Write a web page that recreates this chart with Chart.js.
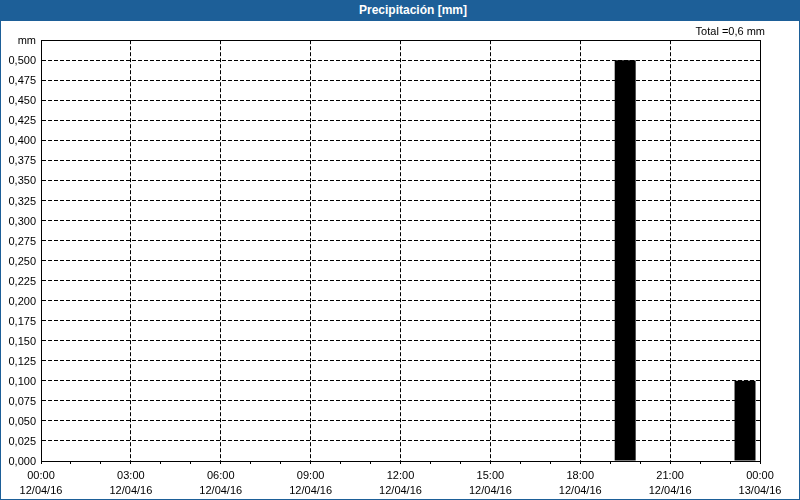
<!DOCTYPE html>
<html>
<head>
<meta charset="utf-8">
<script src="https://cdn.jsdelivr.net/npm/chart.js@4/dist/chart.umd.min.js"></script>
<style>
  body { margin: 0; background: #fff; }
  #frame { position: relative; width: 800px; height: 500px; box-sizing: border-box;
           border: 1px solid #1d5f98; border-top: none; background: #fff; }
  #head { position: absolute; left: -1px; top: 0; width: 800px; height: 21px; background: #1d5f98;
          color: #fff; font: bold 12px "Liberation Sans", sans-serif; line-height: 21px;
          text-align: center; text-indent: 26px; }
  #box { position: absolute; left: 0; top: 21px; width: 798px; height: 478px; }
</style>
</head>
<body>
<div id="frame">
  <div id="head">Precipitación [mm]</div>
  <div id="box"><canvas id="grafico" width="798" height="478"></canvas></div>
</div>
<script>
'use strict';

// datos: precipitacion horaria (mm) del 12/04/16
var horas = [0, 1, 2, 3, 4, 5, 6, 7, 8, 9, 10, 11, 12, 13, 14, 15, 16, 17, 18, 19, 20, 21, 22, 23];
var lluvia = [0, 0, 0, 0, 0, 0, 0, 0, 0, 0, 0, 0, 0, 0, 0, 0, 0, 0, 0, 0.5, 0, 0, 0, 0.1];
var etiquetasHora = ['00:00', '03:00', '06:00', '09:00', '12:00', '15:00', '18:00', '21:00', '00:00'];
var etiquetasFecha = ['12/04/16', '12/04/16', '12/04/16', '12/04/16', '12/04/16', '12/04/16', '12/04/16', '12/04/16', '13/04/16'];
var total = '0,6';

var fuente = { family: '"Liberation Sans", sans-serif', size: 11 };
var negro = '#000';

// marco superior solido
var marco = {
    id: 'marco',
    afterDraw: function (chart) {
        var a = chart.chartArea;
        var ctx = chart.ctx;
        ctx.save();
        ctx.strokeStyle = negro;
        ctx.lineWidth = 1;
        ctx.beginPath();
        ctx.moveTo(a.left, Math.round(a.top) + 0.5);
        ctx.lineTo(a.right + 0.5, Math.round(a.top) + 0.5);
        ctx.stroke();
        ctx.restore();
    }
};

new Chart(document.getElementById('grafico').getContext('2d'), {
    type: 'bar',
    data: {
        datasets: [{
            label: 'Precipitación',
            data: horas.map(function (h, i) { return { x: h + 0.5, y: lluvia[i] }; }),
            backgroundColor: negro,
            borderWidth: 0,
            barPercentage: 0.7,
            categoryPercentage: 1
        }]
    },
    options: {
        responsive: false,
        animation: false,
        devicePixelRatio: 1,
        layout: { padding: { left: 0, right: 34, top: 0, bottom: 0 } },
        plugins: {
            legend: { display: false },
            tooltip: { enabled: false },
            title: {
                display: true,
                text: 'Total =' + total + ' mm',
                align: 'end',
                color: negro,
                font: { family: fuente.family, size: 11, weight: 'normal' },
                padding: { top: 4, bottom: 2 }
            }
        },
        scales: {
            x: {
                type: 'linear',
                min: 0,
                max: 24,
                offset: false,
                afterFit: function (s) { s.height = 38; },
                ticks: {
                    stepSize: 1,
                    autoSkip: false,
                    maxRotation: 0,
                    color: negro,
                    font: { family: fuente.family, size: 11, lineHeight: 15 / 11 },
                    padding: 4,
                    callback: function (v) {
                        if (v % 3 !== 0) return '';
                        return [etiquetasHora[v / 3], etiquetasFecha[v / 3]];
                    }
                },
                grid: {
                    offset: false,
                    color: function (c) { return (c.tick && c.tick.value % 3 === 0) ? negro : 'transparent'; },
                    tickColor: negro,
                    tickLength: 3
                },
                border: { display: true, color: negro, dash: [4, 2] }
            },
            y: {
                min: 0,
                max: 0.525,
                afterFit: function (s) { s.width = 40; },
                ticks: {
                    stepSize: 0.025,
                    color: negro,
                    font: fuente,
                    padding: 5,
                    labelOffset: 1,
                    callback: function (v) {
                        if (v > 0.52) return 'mm';
                        return v.toFixed(3).replace('.', ',');
                    }
                },
                grid: { color: negro, drawTicks: false },
                border: { display: true, color: negro, dash: [4, 2] }
            },
            y2: {
                position: 'right',
                afterFit: function (s) { s.width = 5; },
                ticks: { display: false },
                grid: { drawOnChartArea: false, drawTicks: false },
                border: { display: true, color: negro }
            }
        }
    },
    plugins: [marco]
});
</script>
</body>
</html>
